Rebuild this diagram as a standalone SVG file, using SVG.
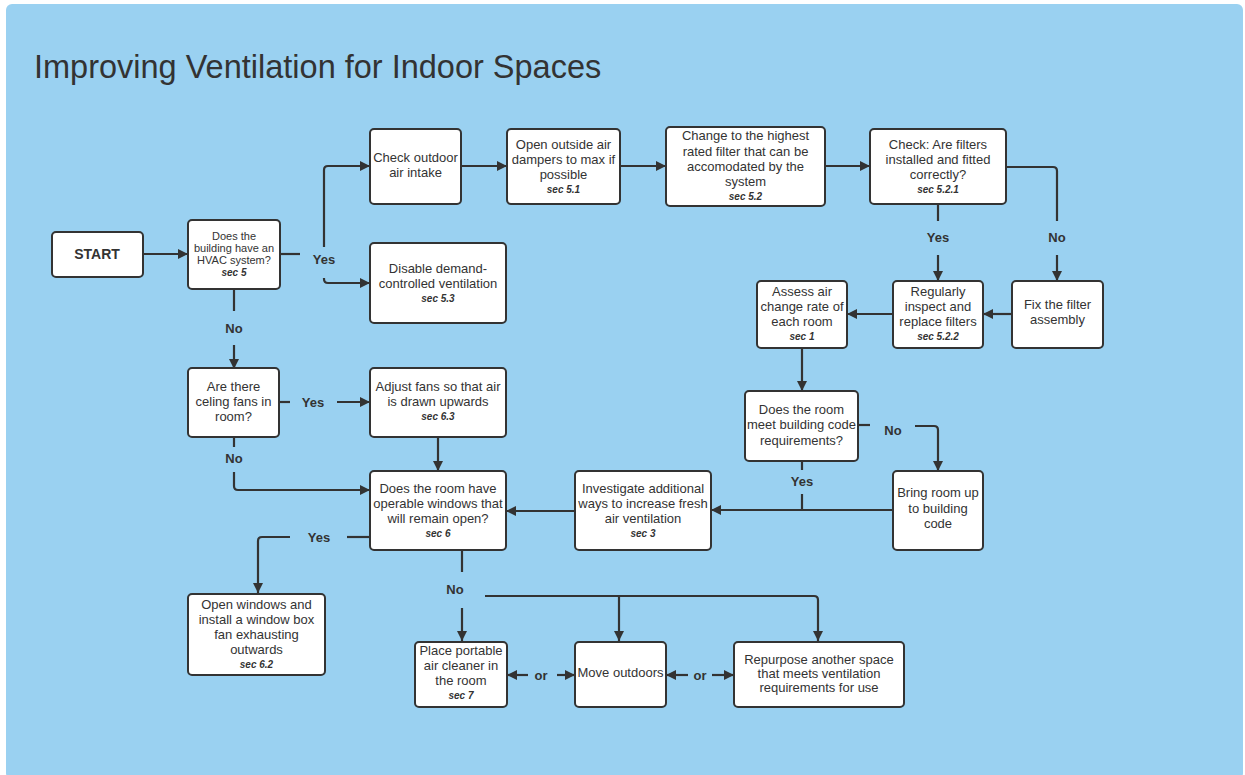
<svg xmlns="http://www.w3.org/2000/svg" width="1245" height="775" viewBox="0 0 1245 775">
<style>
.bx{fill:#fff;stroke:#333;stroke-width:2}
.t{font-family:"Liberation Sans",Arial,sans-serif;font-size:13px;fill:#333;text-anchor:middle}
.s{font-family:"Liberation Sans",Arial,sans-serif;font-size:10px;font-weight:bold;font-style:italic;fill:#333;text-anchor:middle}
.l{font-family:"Liberation Sans",Arial,sans-serif;font-size:13px;font-weight:bold;fill:#333;text-anchor:middle}
.c{fill:none;stroke:#333;stroke-width:2.2;stroke-linejoin:round}
.a{marker-end:url(#ah)}
</style>
<defs>
<marker id="ah" viewBox="0 0 10 10" refX="10" refY="5" markerWidth="11" markerHeight="10" markerUnits="userSpaceOnUse" orient="auto">
<path d="M0,0 L10,5 L0,10 z" fill="#333"/>
</marker>
</defs>
<rect x="6" y="4" width="1237" height="775" rx="6" fill="#9AD1F1"/>
<text x="34" y="78" style="font-family:'Liberation Sans',Arial,sans-serif;font-size:32.5px;fill:#333">Improving Ventilation for Indoor Spaces</text>

<g id="connectors">
<path class="c a" d="M143,254 H188"/>
<path class="c" d="M280,254 H300"/>
<path class="c a" d="M324,247 V170 Q324,166 328,166 H370"/>
<path class="c a" d="M324,278 V279 Q324,283 328,283 H370"/>
<path class="c" d="M234,289 V311"/>
<path class="c a" d="M234,345 V369"/>
<path class="c a" d="M461,166 H507"/>
<path class="c a" d="M620,166 H666"/>
<path class="c a" d="M825,166 H870"/>
<path class="c" d="M938,204 V221"/>
<path class="c a" d="M938,255 V281"/>
<path class="c" d="M1006,167 H1053 Q1057,167 1057,171 V221"/>
<path class="c a" d="M1057,255 V281"/>
<path class="c a" d="M1012,314 H983"/>
<path class="c a" d="M893,314 H847"/>
<path class="c a" d="M802,348 V391"/>
<path class="c" d="M858,425 H870"/>
<path class="c a" d="M915,426 H934 Q938,426 938,430 V471"/>
<path class="c" d="M802,461 V470"/>
<path class="c" d="M802,494 V510"/>
<path class="c a" d="M893,510 H711"/>
<path class="c a" d="M575,511 H506"/>
<path class="c" d="M279,402 H290"/>
<path class="c a" d="M337,402 H370"/>
<path class="c" d="M234,437 V447"/>
<path class="c a" d="M234,472 V486 Q234,490 238,490 H370"/>
<path class="c a" d="M438,437 V471"/>
<path class="c" d="M370,537 H347"/>
<path class="c a" d="M290,537 H262 Q258,537 258,541 V593"/>
<path class="c" d="M462,550 V572"/>
<path class="c a" d="M462,608 V641"/>
<path class="c a" d="M485,596 H814 Q818,596 818,600 V641"/>
<path class="c a" d="M619,596 V641"/>
<path class="c a" d="M528,675 H507"/>
<path class="c a" d="M557,675 H575"/>
<path class="c a" d="M688,675 H666"/>
<path class="c a" d="M712,675 H734"/>
<text class="l" x="324" y="264">Yes</text>
<text class="l" x="234" y="333">No</text>
<text class="l" x="938" y="242">Yes</text>
<text class="l" x="1057" y="242">No</text>
<text class="l" x="893" y="435">No</text>
<text class="l" x="802" y="486">Yes</text>
<text class="l" x="313" y="407">Yes</text>
<text class="l" x="234" y="463">No</text>
<text class="l" x="319" y="542">Yes</text>
<text class="l" x="455" y="594">No</text>
<text class="l" x="541" y="680">or</text>
<text class="l" x="700" y="680">or</text>
</g>

<g id="start">
<rect class="bx" x="52" y="232" width="91" height="45" rx="4"/>
<text x="97" y="259" style="font-family:'Liberation Sans',Arial,sans-serif;font-size:14px;font-weight:bold;fill:#333;text-anchor:middle">START</text>
</g>
<g id="hvac">
<rect class="bx" x="188" y="220" width="92" height="69" rx="4"/>
<text class="t" style="font-size:11px" x="234" y="240">Does the</text>
<text class="t" style="font-size:11px" x="234" y="252">building have an</text>
<text class="t" style="font-size:11px" x="234" y="264">HVAC system?</text>
<text class="s" x="234" y="276">sec 5</text>
</g>
<g id="check-intake">
<rect class="bx" x="370" y="129" width="91" height="75" rx="4"/>
<text class="t" x="415.5" y="162">Check outdoor</text>
<text class="t" x="415.5" y="177">air intake</text>
</g>
<g id="dampers">
<rect class="bx" x="507" y="129" width="113" height="75" rx="4"/>
<text class="t" x="563.5" y="149">Open outside air</text>
<text class="t" x="563.5" y="164">dampers to max if</text>
<text class="t" x="563.5" y="179">possible</text>
<text class="s" x="563.5" y="193">sec 5.1</text>
</g>
<g id="filter">
<rect class="bx" x="666" y="127" width="159" height="79" rx="4"/>
<text class="t" x="745.5" y="140">Change to the highest</text>
<text class="t" x="745.5" y="156">rated filter that can be</text>
<text class="t" x="745.5" y="171">accomodated by the</text>
<text class="t" x="745.5" y="186">system</text>
<text class="s" x="745.5" y="200">sec 5.2</text>
</g>
<g id="check-filters">
<rect class="bx" x="870" y="129" width="136" height="75" rx="4"/>
<text class="t" x="938" y="149">Check: Are filters</text>
<text class="t" x="938" y="164">installed and fitted</text>
<text class="t" x="938" y="179">correctly?</text>
<text class="s" x="938" y="193">sec 5.2.1</text>
</g>
<g id="disable">
<rect class="bx" x="370" y="243" width="136" height="80" rx="4"/>
<text class="t" x="438" y="273">Disable demand-</text>
<text class="t" x="438" y="288">controlled ventilation</text>
<text class="s" x="438" y="302">sec 5.3</text>
</g>
<g id="inspect">
<rect class="bx" x="893" y="281" width="90" height="67" rx="4"/>
<text class="t" x="938" y="296">Regularly</text>
<text class="t" x="938" y="311">inspect and</text>
<text class="t" x="938" y="326">replace filters</text>
<text class="s" x="938" y="340">sec 5.2.2</text>
</g>
<g id="fix">
<rect class="bx" x="1012" y="281" width="91" height="67" rx="4"/>
<text class="t" x="1057.5" y="309">Fix the filter</text>
<text class="t" x="1057.5" y="324">assembly</text>
</g>
<g id="assess">
<rect class="bx" x="757" y="281" width="90" height="67" rx="4"/>
<text class="t" x="802" y="296">Assess air</text>
<text class="t" x="802" y="311">change rate of</text>
<text class="t" x="802" y="326">each room</text>
<text class="s" x="802" y="340">sec 1</text>
</g>
<g id="meet-code">
<rect class="bx" x="745" y="391" width="113" height="70" rx="4"/>
<text class="t" x="801.5" y="414">Does the room</text>
<text class="t" x="801.5" y="429">meet building code</text>
<text class="t" x="801.5" y="445">requirements?</text>
</g>
<g id="bring-up">
<rect class="bx" x="893" y="471" width="90" height="79" rx="4"/>
<text class="t" x="938" y="497">Bring room up</text>
<text class="t" x="938" y="513">to building</text>
<text class="t" x="938" y="528">code</text>
</g>
<g id="investigate">
<rect class="bx" x="575" y="471" width="136" height="79" rx="4"/>
<text class="t" x="643" y="493">Investigate additional</text>
<text class="t" x="643" y="508">ways to increase fresh</text>
<text class="t" x="643" y="523">air ventilation</text>
<text class="s" x="643" y="537">sec 3</text>
</g>
<g id="windows">
<rect class="bx" x="370" y="471" width="136" height="79" rx="4"/>
<text class="t" x="438" y="493">Does the room have</text>
<text class="t" x="438" y="508">operable windows that</text>
<text class="t" x="438" y="523">will remain open?</text>
<text class="s" x="438" y="537">sec 6</text>
</g>
<g id="ceiling-fans">
<rect class="bx" x="188" y="368" width="91" height="69" rx="4"/>
<text class="t" x="233.5" y="391">Are there</text>
<text class="t" x="233.5" y="406">celing fans in</text>
<text class="t" x="233.5" y="421">room?</text>
</g>
<g id="adjust-fans">
<rect class="bx" x="370" y="368" width="136" height="69" rx="4"/>
<text class="t" x="438" y="391">Adjust fans so that air</text>
<text class="t" x="438" y="406">is drawn upwards</text>
<text class="s" x="438" y="420">sec 6.3</text>
</g>
<g id="open-windows">
<rect class="bx" x="188" y="594" width="137" height="81" rx="4"/>
<text class="t" x="256.5" y="609">Open windows and</text>
<text class="t" x="256.5" y="624">install a window box</text>
<text class="t" x="256.5" y="639">fan exhausting</text>
<text class="t" x="256.5" y="654">outwards</text>
<text class="s" x="256.5" y="668">sec 6.2</text>
</g>
<g id="air-cleaner">
<rect class="bx" x="415" y="642" width="92" height="65" rx="4"/>
<text class="t" x="461" y="655">Place portable</text>
<text class="t" x="461" y="670">air cleaner in</text>
<text class="t" x="461" y="685">the room</text>
<text class="s" x="461" y="699">sec 7</text>
</g>
<g id="outdoors">
<rect class="bx" x="575" y="642" width="91" height="65" rx="4"/>
<text class="t" x="620.5" y="677">Move outdoors</text>
</g>
<g id="repurpose">
<rect class="bx" x="734" y="642" width="170" height="65" rx="4"/>
<text class="t" x="819" y="664">Repurpose another space</text>
<text class="t" x="819" y="678">that meets ventilation</text>
<text class="t" x="819" y="692">requirements for use</text>
</g>
</svg>
